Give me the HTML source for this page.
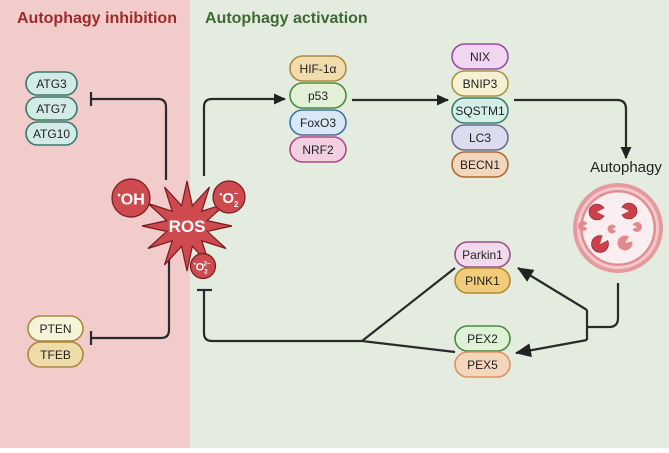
<!DOCTYPE html>
<html><head><meta charset="utf-8"><style>
html,body{margin:0;padding:0;}
body{width:669px;height:448px;overflow:hidden;}
svg text{font-family:"Liberation Sans",sans-serif;}
</style></head><body>
<svg width="669" height="448" viewBox="0 0 669 448" xmlns="http://www.w3.org/2000/svg">
<defs>
<marker id="ah" markerWidth="12" markerHeight="12" refX="11" refY="6" orient="auto" markerUnits="userSpaceOnUse">
<path d="M0,0.5 L12,6 L0,11.5 z" fill="#222"/></marker>
<marker id="ah2" markerWidth="16" markerHeight="14" refX="15" refY="7" orient="auto" markerUnits="userSpaceOnUse">
<path d="M0,0 L16,7 L0,14 z" fill="#222"/></marker>
</defs>
<rect x="0" y="0" width="190" height="448" fill="#f2cbcb"/>
<rect x="190" y="0" width="479" height="448" fill="#e4ecdf"/>
<text x="17" y="23" font-size="16" font-weight="bold" fill="#9e2a2b">Autophagy inhibition</text>
<text x="205" y="23" font-size="16" font-weight="bold" fill="#3e6a35">Autophagy activation</text>

<g fill="none" stroke="#2a2a2a" stroke-width="2.2">
<path d="M166,180 V107 Q166,99 158,99 H91"/>
<path d="M91,92 V106"/>
<path d="M169,259 V330 Q169,338 161,338 H91"/>
<path d="M91,331 V345"/>
<path d="M204,176 V107 Q204,99 212,99 H285" marker-end="url(#ah)"/>
<path d="M352,100 H448" marker-end="url(#ah)"/>
<path d="M514,100 H617 Q626,100 626,109 V158" marker-end="url(#ah)"/>
<path d="M618,283 V318 Q618,327 609,327 H587"/>
<path d="M587,310 V340"/>
<path d="M587,310 L518,268" marker-end="url(#ah2)"/>
<path d="M587,340 L516,353" marker-end="url(#ah2)"/>
<path d="M455,268 L362,341"/>
<path d="M455,352 L362,341"/>
<path d="M362,341 H212 Q204,341 204,333 V290"/>
<path d="M197,290 H212"/>
</g>

<g font-size="12" text-anchor="middle" fill="#222" stroke-width="1.6">
<rect x="26" y="72" width="51" height="23" rx="11.5" fill="#d2ebe6" stroke="#3a7a6a"/><text x="51.5" y="88">ATG3</text>
<rect x="26" y="97" width="51" height="23" rx="11.5" fill="#d2ebe6" stroke="#3a7a6a"/><text x="51.5" y="113">ATG7</text>
<rect x="26" y="122" width="51" height="23" rx="11.5" fill="#d2ebe6" stroke="#3a7a6a"/><text x="51.5" y="138">ATG10</text>
<rect x="28" y="316" width="55" height="25" rx="12.5" fill="#f6f4d8" stroke="#a88a3a"/><text x="55.5" y="333">PTEN</text>
<rect x="28" y="342" width="55" height="25" rx="12.5" fill="#efdcab" stroke="#a88a3a"/><text x="55.5" y="359">TFEB</text>

<rect x="290" y="56" width="56" height="25" rx="12.5" fill="#f1dcac" stroke="#b08a45"/><text x="318" y="73">HIF-1α</text>
<rect x="290" y="83" width="56" height="25" rx="12.5" fill="#e2f1d8" stroke="#4e8a3e"/><text x="318" y="100">p53</text>
<rect x="290" y="110" width="56" height="25" rx="12.5" fill="#d9e8f6" stroke="#3f72a8"/><text x="318" y="127">FoxO3</text>
<rect x="290" y="137" width="56" height="25" rx="12.5" fill="#f3cfe2" stroke="#b04a86"/><text x="318" y="154">NRF2</text>

<rect x="452" y="44" width="56" height="25" rx="12.5" fill="#f1d6f2" stroke="#9a4aa8"/><text x="480" y="61">NIX</text>
<rect x="452" y="71" width="56" height="25" rx="12.5" fill="#f5f1d2" stroke="#a89545"/><text x="480" y="88">BNIP3</text>
<rect x="452" y="98" width="56" height="25" rx="12.5" fill="#d4eee8" stroke="#3a8070"/><text x="480" y="115">SQSTM1</text>
<rect x="452" y="125" width="56" height="25" rx="12.5" fill="#dcdcee" stroke="#6a6a90"/><text x="480" y="142">LC3</text>
<rect x="452" y="152" width="56" height="25" rx="12.5" fill="#f2d7bd" stroke="#ad6a35"/><text x="480" y="169">BECN1</text>

<rect x="455" y="242" width="55" height="25" rx="12.5" fill="#f2d9ec" stroke="#9a5088"/><text x="482.5" y="259">Parkin1</text>
<rect x="455" y="268" width="55" height="25" rx="12.5" fill="#f1cd7a" stroke="#b08a38"/><text x="482.5" y="285">PINK1</text>
<rect x="455" y="326" width="55" height="25" rx="12.5" fill="#def2d8" stroke="#4a8a3e"/><text x="482.5" y="343">PEX2</text>
<rect x="455" y="352" width="55" height="25" rx="12.5" fill="#f4d6bd" stroke="#e09060"/><text x="482.5" y="369">PEX5</text>
</g>

<text x="626" y="172" font-size="15" text-anchor="middle" fill="#222">Autophagy</text>
<circle cx="618" cy="228" r="45" fill="#e79a9d"/>
<circle cx="618" cy="228" r="41" fill="#f4c9cb"/>
<circle cx="618" cy="228" r="38" fill="#e08f93"/>
<circle cx="618" cy="228" r="35.5" fill="#fbeef0"/>
<g stroke="#8a1a22" stroke-width="0.6" fill="#c9424a">
<circle cx="597" cy="212" r="8"/><circle cx="629" cy="211" r="8"/><circle cx="600" cy="244" r="8.5"/>
</g>
<g fill="#e38a8f">
<circle cx="583" cy="226" r="5"/><circle cx="612" cy="229" r="4.5"/><circle cx="637" cy="227" r="5"/><circle cx="625" cy="243" r="7.5"/>
</g>
<g fill="#fbeef0">
<path d="M597,212 L607,207 L607,217 Z"/>
<path d="M629,211 L619,206 L619,216 Z"/>
<path d="M600,244 L603,234 L610,239 Z"/>
<path d="M583,226 L589,223 L589,229 Z"/>
<path d="M612,229 L617,226.5 L617,231.5 Z"/>
<path d="M637,227 L631,224 L631,230 Z"/>
<path d="M625,243 L630,235 L634,241 Z"/>
</g>

<g stroke="#7a1a1f" stroke-width="1.2" fill="#cd4a4f">
<polygon points="232,226 207.3,231.4 226,248.5 201.8,240.8 209.5,265 192.4,246.3 187,271 181.6,246.3 164.5,265 172.2,240.8 148,248.5 166.7,231.4 142,226 166.7,220.6 148,203.5 172.2,211.2 164.5,187 181.6,205.7 187,181 192.4,205.7 209.5,187 201.8,211.2 226,203.5 207.3,220.6"/>
<circle cx="131" cy="198" r="19"/>
<circle cx="229" cy="197" r="16"/>
<circle cx="203" cy="266" r="12.5"/>
</g>
<g fill="#fff" font-weight="bold" text-anchor="middle">
<text x="187" y="232" font-size="17">ROS</text>
<text x="131" y="204.5" font-size="16"><tspan font-size="10" dy="-6">•</tspan><tspan dy="6">OH</tspan></text>
<text x="229" y="203" font-size="15"><tspan font-size="8" dy="-6">•</tspan><tspan dy="6">O</tspan><tspan font-size="8" dy="4">2</tspan><tspan font-size="8" dx="-5" dy="-11">−</tspan></text>
<text x="202" y="270.5" font-size="11"><tspan font-size="6" dy="-5">•</tspan><tspan dy="5">O</tspan><tspan font-size="6" dy="3">2</tspan><tspan font-size="6" dx="-4" dy="-8">2−</tspan></text>
</g>
</svg>
</body></html>
